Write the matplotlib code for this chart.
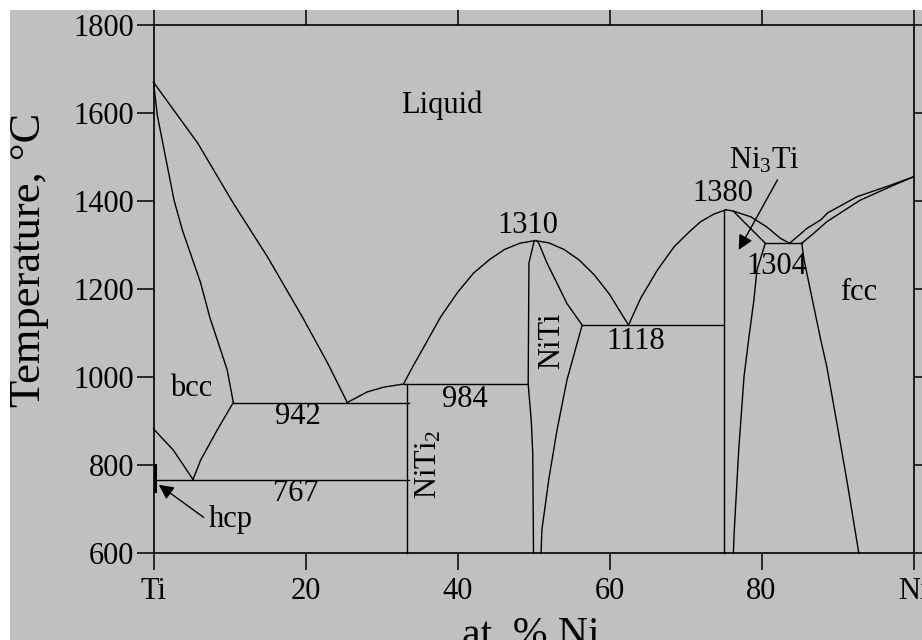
import matplotlib
matplotlib.use("Agg")
import matplotlib.pyplot as plt
from matplotlib.patches import Rectangle

plt.rcParams["font.family"] = ["Liberation Serif", "DejaVu Serif"]
plt.rcParams["mathtext.default"] = "regular"

# ---------------- Ti-Ni phase boundaries (x: at.% Ni, T: deg C) ----------------
# liquidus, Ti side down to the 942 eutectic
liq_ti_x = [0.0, 5.8, 10.5, 15.0, 19.6, 22.9, 25.5]
liq_ti_t = [1670, 1532, 1395, 1273, 1136, 1032, 942]
# bcc solidus
sol_bcc_x = [0.0, 0.5, 2.7, 3.8, 6.2, 7.4, 9.7, 10.5]
sol_bcc_t = [1670, 1595, 1402, 1334, 1214, 1136, 1016, 942]
# bcc solvus towards the eutectoid
solv_bcc_x = [5.2, 6.2, 8.4, 10.5]
solv_bcc_t = [767, 811, 880, 942]
# bcc / hcp transus of pure Ti
transus_x = [0.0, 2.6, 5.2]
transus_t = [882, 834, 767]
# hcp solvus (hugging the Ti axis)
hcp_x = [0.25, 0.25]
hcp_t = [800, 740]
# liquidus between the 942 eutectic and the 984 peritectic
liq_e1_x = [25.5, 28.1, 30.3, 32.9]
liq_e1_t = [942, 966, 977, 984]
# NiTi dome, left branch of liquidus
liq_niti_l_x = [32.9, 34.0, 35.6, 37.8, 40.0, 42.1, 44.3, 46.2, 48.2, 50.2]
liq_niti_l_t = [984, 1020, 1069, 1137, 1192, 1236, 1268, 1290, 1304, 1310]
# NiTi dome, right branch of liquidus
liq_niti_r_x = [50.2, 52.0, 54.0, 56.0, 58.0, 60.0, 62.5]
liq_niti_r_t = [1310, 1305, 1290, 1266, 1232, 1188, 1118]
# NiTi phase field, Ti-rich boundary
niti_l_x = [50.1, 49.4, 49.3, 49.7, 49.9, 50.0]
niti_l_t = [1310, 1259, 984, 902, 827, 600]
# NiTi phase field, Ni-rich boundary
niti_r_x = [50.4, 50.7, 51.8, 53.1, 54.4, 56.4, 54.4, 53.1, 52.0, 51.1, 51.0]
niti_r_t = [1310, 1304, 1258, 1213, 1167, 1118, 993, 880, 766, 652, 600]
# NiTi2 line compound
niti2_x = [33.3, 33.3]
niti2_t = [984, 600]
# Ni3Ti dome, left branch of liquidus
liq_ni3ti_l_x = [62.5, 64.1, 66.3, 68.5, 70.5, 72.0, 73.7, 75.3]
liq_ni3ti_l_t = [1118, 1179, 1243, 1296, 1330, 1353, 1370, 1380]
# Ni3Ti dome, right branch of liquidus down to the 1304 eutectic
liq_ni3ti_r_x = [75.3, 76.3, 78.6, 80.7, 82.5, 83.7]
liq_ni3ti_r_t = [1380, 1377, 1364, 1341, 1315, 1304]
# Ni3Ti, Ti-rich edge
ni3ti_l_x = [75.0, 75.0]
ni3ti_l_t = [1380, 600]
# Ni3Ti, Ni-rich boundary
ni3ti_r_x = [76.3, 77.2, 79.0, 80.5, 79.4, 79.0, 78.3, 77.7, 77.0, 76.4, 76.3]
ni3ti_r_t = [1377, 1361, 1330, 1304, 1243, 1175, 1084, 1001, 834, 645, 600]
# fcc liquidus and solidus towards pure Ni
liq_fcc_x = [83.7, 86.0, 87.8, 88.7, 92.6, 97.0, 100.0]
liq_fcc_t = [1304, 1338, 1357, 1373, 1410, 1436, 1455]
sol_fcc_x = [85.3, 86.9, 88.6, 93.0, 97.4, 100.0]
sol_fcc_t = [1304, 1327, 1353, 1402, 1436, 1455]
# fcc solvus
solv_fcc_x = [85.3, 85.6, 86.7, 87.8, 88.6, 90.0, 91.3, 92.8]
solv_fcc_t = [1304, 1266, 1175, 1084, 1023, 887, 758, 600]

# invariant reactions: temperature and composition span
inv_temps = [767, 942, 984, 1118, 1304]
inv_x0 = [0.25, 10.5, 32.9, 56.4, 80.5]
inv_x1 = [33.6, 33.6, 49.3, 75.0, 85.3]
# congruent melting maxima
max_temps = [1310, 1380]

# axis ticks
x_ticks = [0, 20, 40, 60, 80, 100]
x_tick_labels = ["Ti", "20", "40", "60", "80", "Ni"]
y_ticks = [600, 800, 1000, 1200, 1400, 1600, 1800]

# ---------------------------------------------------------------------------
W, H = 922, 640
bg = "#c0c0c0"
fig = plt.figure(figsize=(W / 100, H / 100), dpi=100, facecolor=bg)
ax = fig.add_axes([153.5 / W, 1 - 553 / H, 760 / W, 528 / H])
ax.set_facecolor(bg)

lw = 1.0
curves = [
    (liq_ti_x, liq_ti_t), (sol_bcc_x, sol_bcc_t), (solv_bcc_x, solv_bcc_t),
    (transus_x, transus_t), (liq_e1_x, liq_e1_t),
    (liq_niti_l_x, liq_niti_l_t), (liq_niti_r_x, liq_niti_r_t),
    (niti_l_x, niti_l_t), (niti_r_x, niti_r_t), (niti2_x, niti2_t),
    (liq_ni3ti_l_x, liq_ni3ti_l_t), (liq_ni3ti_r_x, liq_ni3ti_r_t),
    (ni3ti_l_x, ni3ti_l_t), (ni3ti_r_x, ni3ti_r_t),
    (liq_fcc_x, liq_fcc_t), (sol_fcc_x, sol_fcc_t), (solv_fcc_x, solv_fcc_t),
]
for xs, ts in curves:
    ax.plot(xs, ts, color="black", lw=lw, solid_joinstyle="round", clip_on=False)
ax.plot(hcp_x, hcp_t, color="black", lw=2.2)

for t, x0, x1 in zip(inv_temps, inv_x0, inv_x1):
    ax.plot([x0, x1], [t, t], color="black", lw=lw)

fs = 22
txt = dict(fontsize=fs, ha="center", va="center", color="black")
# invariant temperatures
inv_label_pos = [(18.7, 736), (19.0, 911), (41.0, 948), (63.4, 1080), (82.0, 1250)]
for t, (lx, ly) in zip(inv_temps, inv_label_pos):
    ax.text(lx, ly, str(t), **txt)
max_label_pos = [(49.3, 1345), (74.9, 1418)]
for t, (lx, ly) in zip(max_temps, max_label_pos):
    ax.text(lx, ly, str(t), **txt)

# phase names
ax.text(37.9, 1618, "Liquid", **txt)
ax.text(4.9, 975, "bcc", **txt)
ax.text(92.8, 1191, "fcc", **txt)
ax.text(52.4, 1082, "NiTi", rotation=90, **txt)
ax.text(36.2, 802, "NiTi$_2$", rotation=90, **txt)
ax.text(80.4, 1492, "Ni$_3$Ti", **txt)

arrow = dict(arrowstyle="-|>", color="black", lw=1.0, mutation_scale=22,
             shrinkA=0, shrinkB=0)
ax.annotate("", xy=(77.0, 1289), xytext=(82.1, 1448), arrowprops=arrow)
ax.annotate("", xy=(0.7, 755), xytext=(6.6, 681), arrowprops=arrow)
ax.text(10.1, 677, "hcp", **txt)

ax.set_xlim(0, 100)
ax.set_ylim(600, 1800)
ax.set_xticks(x_ticks)
ax.set_xticklabels(x_tick_labels)
ax.set_yticks(y_ticks)
ax.tick_params(axis="both", direction="out", length=12.5, width=1.1,
               labelsize=fs, colors="black", top=True, right=True)
ax.tick_params(axis="x", pad=5)
ax.tick_params(axis="y", pad=1.5)
for s in ax.spines.values():
    s.set_linewidth(1.2)

ax.set_xlabel("at. % Ni", fontsize=30)
ax.xaxis.set_label_coords(0.497, -0.12)
ax.set_ylabel("Temperature, °C", fontsize=32)
ax.yaxis.set_label_coords(-0.137, 0.555)

# white margin along the top and left edges
fig.add_artist(Rectangle((0, 1 - 10 / H), 1, 10 / H, transform=fig.transFigure,
                         facecolor="white", edgecolor="none", zorder=20))
fig.add_artist(Rectangle((0, 0), 10 / W, 1, transform=fig.transFigure,
                         facecolor="white", edgecolor="none", zorder=20))

fig.savefig("out.png", dpi=100, facecolor=bg)
